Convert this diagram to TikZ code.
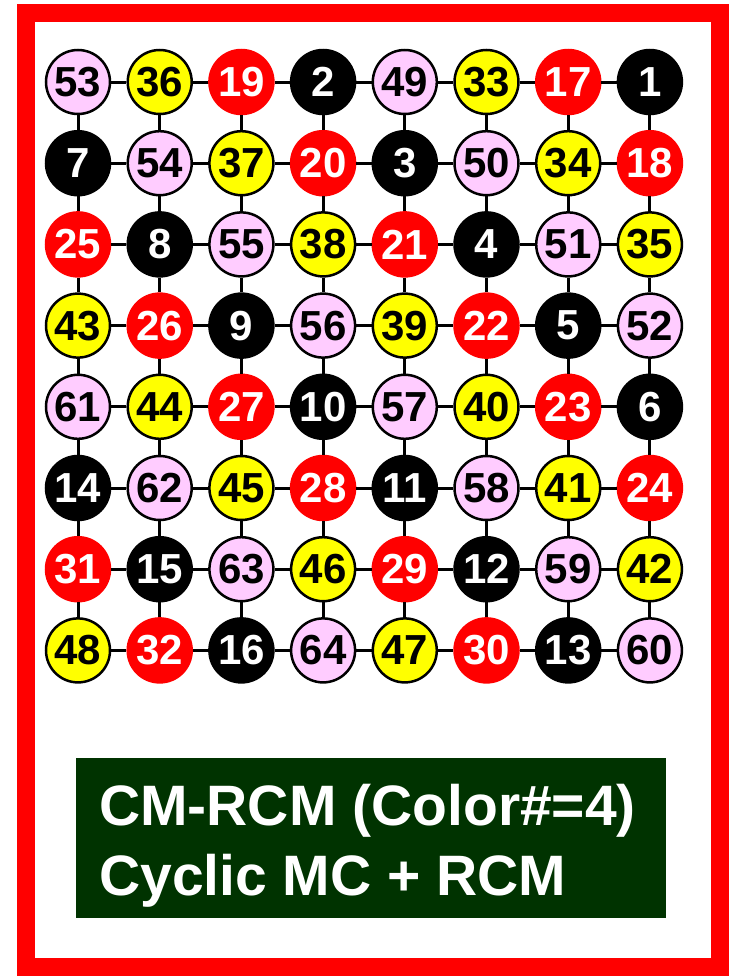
\documentclass[tikz,border=0pt]{standalone}
\usepackage{fontspec}
\setmainfont{Liberation Sans}
\usepackage{xcolor}
\definecolor{cmpink}{HTML}{FFCCFF}
\definecolor{cmyellow}{HTML}{FFFF00}
\definecolor{cmred}{HTML}{FF0000}
\definecolor{cmgreen}{HTML}{003300}
\usepackage{tikz}

\begin{document}
\begin{tikzpicture}[x=1pt, y=-1pt,
    cell/.style={circle, minimum size=64pt, inner sep=0pt, line width=2.5pt,
      font=\fontsize{42}{50}\selectfont\bfseries},
    cell0/.style={cell, fill=black, draw=black, text=white},
    cell1/.style={cell, fill=cmred, draw=cmred, text=white},
    cell2/.style={cell, fill=cmyellow, draw=black, text=black},
    cell3/.style={cell, fill=cmpink, draw=black, text=black},
    gridline/.style={draw=black, line width=3pt},
    caption/.style={anchor=base west, inner sep=0pt, text=white,
      font=\fontsize{57}{70}\selectfont\bfseries}]
    \useasboundingbox (0,0) rectangle (731,977);
    % frame
    \draw[cmred, line width=18pt] (26,13) rectangle (719.5,967);
    % grid of unknowns
    \foreach \row [count=\j] in {{53,36,19,2,49,33,17,1},{7,54,37,20,3,50,34,18},
        {25,8,55,38,21,4,51,35},{43,26,9,56,39,22,5,52},{61,44,27,10,57,40,23,6},
        {14,62,45,28,11,58,41,24},{31,15,63,46,29,12,59,42},{48,32,16,64,47,30,13,60}}
      \foreach \v [count=\i] in \row {
        \pgfmathtruncatemacro\grp{int((\v-1)/16)}
        \node[cell\grp] (n-\j-\i) at ({78+81.7*(\i-1)},{82+81.2*(\j-1)}) {\v};
      }
    % links
    \foreach \j in {1,...,8} {
      \foreach \i in {1,...,7} {
        \pgfmathtruncatemacro\ii{\i+1}
        \path[gridline] (n-\j-\i) -- (n-\j-\ii);
        \path[gridline] (n-\i-\j) -- (n-\ii-\j);
      }
    }
    % caption
    \node[fill=cmgreen, minimum width=590pt, minimum height=160pt, inner sep=0pt] (box) at (371,838) {};
    \node[caption] (line1) at (99,825) {CM-RCM (Color\#=4)};
    \node[caption] (line2) at (99,895) {Cyclic MC + RCM};
\end{tikzpicture}
\end{document}
